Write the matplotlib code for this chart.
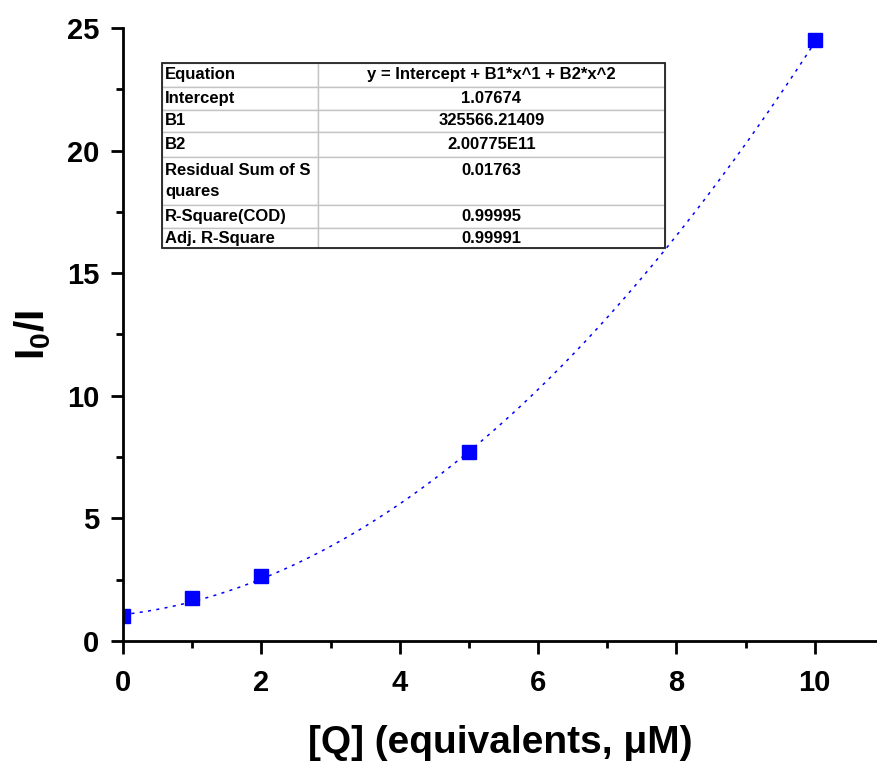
import numpy as np
import matplotlib
matplotlib.use("Agg")
import matplotlib.pyplot as plt
from matplotlib.patches import Rectangle
from matplotlib.ticker import MultipleLocator

plt.rcParams['font.family'] = ['Liberation Sans', 'DejaVu Sans']
plt.rcParams['font.weight'] = 'bold'
plt.rcParams['mathtext.fontset'] = 'custom'
plt.rcParams['mathtext.bf'] = 'Liberation Sans:bold'
plt.rcParams['mathtext.rm'] = 'Liberation Sans:bold'
plt.rcParams['mathtext.it'] = 'Liberation Sans:bold'

# измерения: концентрация тушителя (мкМ) и I0/I
q_conc = [0, 1, 2, 5, 10]
i0_over_i = [1.02, 1.75, 2.65, 7.72, 24.5]

# параметры квадратичной аппроксимации (x в М)
intercept = 1.07674
b1 = 325566.21409
b2 = 2.00775e11

table_labels = ["Equation", "Intercept", "B1", "B2",
                "Residual Sum of S\nquares", "R-Square(COD)", "Adj. R-Square"]
table_values = ["y = Intercept + B1*x^1 + B2*x^2", "1.07674", "325566.21409",
                "2.00775E11", "0.01763\n ", "0.99995", "0.99991"]

fig = plt.figure(figsize=(8.77, 7.61), dpi=100)
ax = fig.add_axes([0.1403, 0.1577, 0.8597, 0.8055])

# кривая аппроксимации
xf = np.linspace(0, 10, 300)
yf = intercept + b1 * xf * 1e-6 + b2 * (xf * 1e-6) ** 2
ax.plot(xf, yf, color='blue', lw=1.1, ls=(0, (2, 3.5)))

ax.plot(q_conc, i0_over_i, 's', color='blue', markersize=10.5, ls='none')

ax.set_xlim(0, 10.9)
ax.set_ylim(0, 25)
ax.xaxis.set_major_locator(MultipleLocator(2))
ax.xaxis.set_minor_locator(MultipleLocator(1))
ax.yaxis.set_major_locator(MultipleLocator(5))
ax.yaxis.set_minor_locator(MultipleLocator(2.5))

for side in ['top', 'right']:
    ax.spines[side].set_visible(False)
for side in ['left', 'bottom']:
    ax.spines[side].set_linewidth(2)
ax.tick_params(which='major', length=9, width=2, direction='out', labelsize=21)
ax.tick_params(which='minor', length=5, width=2, direction='out')
ax.tick_params(axis='x', which='major', pad=11)
ax.tick_params(axis='y', which='major', pad=8)
for lab in ax.get_xticklabels() + ax.get_yticklabels():
    lab.set_fontweight('bold')

ax.set_xlabel("[Q] (equivalents, \u03bcM)", fontsize=28, fontweight='bold',
              labelpad=20)
ax.set_ylabel(r"$\mathbf{I_0/I}$", fontsize=29, labelpad=10)

# таблица с результатами аппроксимации
cells = [[a, b] for a, b in zip(table_labels, table_values)]
tbl_box = [0.0517, 0.641, 0.667, 0.302]
tbl = ax.table(cellText=cells, cellLoc='center', bbox=tbl_box,
               colWidths=[156, 347])
tbl.auto_set_font_size(False)
row_h = [24, 23, 22, 25, 48, 23, 20]
for (r, c), cell in tbl.get_celld().items():
    cell.set_height(row_h[r])
    cell.set_edgecolor('#c4c4c4')
    cell.set_linewidth(1.0)
    txt = cell.get_text()
    txt.set_fontsize(12)
    txt.set_fontweight('bold')
    txt.set_linespacing(1.45)
    if c == 0:
        cell.PAD = 0.02
        cell._loc = 'left'
        txt.set_ha('left')
ax.add_patch(Rectangle(tbl_box[:2], tbl_box[2], tbl_box[3],
                       transform=ax.transAxes, fill=False,
                       edgecolor='#222222', lw=1.3, zorder=5))

fig.savefig("out.png", dpi=100)
